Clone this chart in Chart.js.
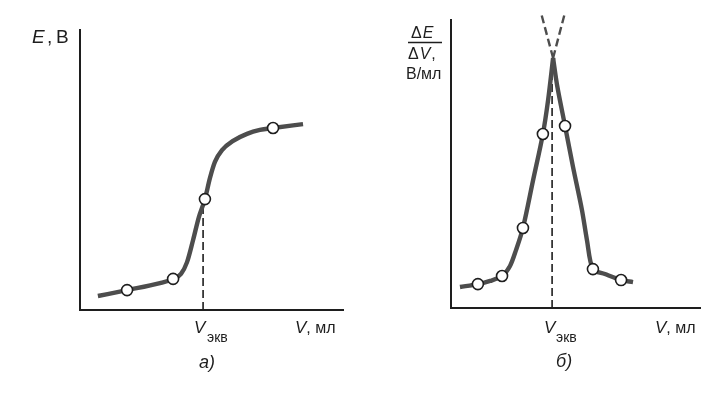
<!DOCTYPE html>
<html><head><meta charset="utf-8">
<script src="https://cdn.jsdelivr.net/npm/chart.js@4.4.0/dist/chart.umd.min.js"></script>
<style>
html,body{margin:0;background:#fff}
#wrap{position:relative;width:723px;height:397px;overflow:hidden;background:#fff}
canvas{position:absolute;top:0}
#ca{left:0}
#cb{left:361px}
</style></head><body>
<div id="wrap"><canvas id="ca" width="361" height="397"></canvas><canvas id="cb" width="362" height="397"></canvas></div>
<script>
// panel а) : E against V
const curveA_V=[0.68,1.79,3.04,3.54,3.84,4.07,4.30,4.52,4.75,4.94,5.13,5.40,5.82,6.35,6.84,7.34,8.48];
const curveA_E=[0.50,0.71,0.96,1.11,1.29,1.71,2.50,3.32,3.96,4.71,5.29,5.71,6.04,6.29,6.43,6.50,6.64];
const pointsA_V=[1.79,3.54,4.75,7.34];
const pointsA_E=[0.71,1.11,3.96,6.50];
const vEqA=4.68;
// panel б) : dE/dV against V
const riseB_V=[0.36,1.08,1.57,2.05,2.37,2.61,2.89,3.29,3.69,3.90,4.10];
const riseB_D=[0.73,0.83,0.94,1.11,1.46,2.01,2.78,4.41,6.04,7.22,8.68];
const fallB_V=[4.10,4.26,4.58,4.90,5.26,5.46,5.70,6.18,6.83,7.31];
const fallB_D=[8.68,7.74,6.32,4.90,3.40,2.36,1.35,1.18,0.97,0.90];
const pointsB_V=[1.08,2.05,2.89,3.69,4.58,5.70,6.83];
const pointsB_D=[0.83,1.11,2.78,6.04,6.32,1.35,0.97];
const extRiseB_V=[4.10,4.56];
const extFallB_V=[4.10,3.63];
const extB_D=[8.68,10.2];
const vEqB=4.06;

const INK='#1e1e1e', CURVE='#4d4d4d', FONT='"Liberation Sans", Arial, sans-serif';
const xy=(xs,ys)=>xs.map((x,i)=>({x,y:ys[i]}));
function txt(ctx,s,x,y,font){ ctx.font=font; ctx.fillText(s,x,y); return x+ctx.measureText(s).width; }

function axes(){
  const ax={type:'linear',min:0,max:10,grid:{display:false,drawTicks:false},ticks:{display:false},border:{display:true,color:INK,width:2}};
  return {x:{...ax},y:{...ax}};
}
const markers=(xs,ys)=>({data:xy(xs,ys),showLine:false,order:0,pointRadius:5.5,pointBorderWidth:1.6,pointBackgroundColor:'#fff',pointBorderColor:INK});
const curve=(xs,ys,smooth)=>({data:xy(xs,ys),showLine:true,order:2,pointRadius:0,borderColor:CURVE,borderWidth:4.4,
  ...(smooth?{tension:smooth}:{cubicInterpolationMode:'monotone'})});
const dashed=(xs,ys,w)=>({data:xy(xs,ys),showLine:true,order:3,pointRadius:0,borderColor:w>2?CURVE:INK,borderWidth:w||1.6,borderDash:[8,4],clip:false});

const baseOpts=(padding)=>({responsive:false,animation:false,events:[],layout:{padding},
  plugins:{legend:{display:false},tooltip:{enabled:false}},scales:axes()});

new Chart(document.getElementById('ca'),{type:'scatter',
  data:{datasets:[markers(pointsA_V,pointsA_E),curve(curveA_V,curveA_E),dashed([vEqA,vEqA],[0,pointsA_E[2]])]},
  options:baseOpts({left:80,top:30,right:18,bottom:87}),
  plugins:[{id:'labelsA',afterDraw(chart){
    const ctx=chart.ctx, ca=chart.chartArea, vx=chart.scales.x.getPixelForValue(vEqA);
    ctx.save(); ctx.fillStyle=INK; ctx.textBaseline='alphabetic';
    txt(ctx,'E',32,43,'italic 19px '+FONT); txt(ctx,',',47,43,'19px '+FONT); txt(ctx,'В',56,43,'19px '+FONT);
    txt(ctx,'V',vx-9,ca.bottom+23,'italic 17px '+FONT); txt(ctx,'экв',vx+4,ca.bottom+32,'14px '+FONT);
    let x=txt(ctx,'V',ca.right-48,ca.bottom+23,'italic 17px '+FONT); txt(ctx,', мл',x,ca.bottom+23,'16px '+FONT);
    txt(ctx,'а)',vx-4,ca.bottom+58,'italic 18px '+FONT);
    ctx.restore();
  }}]
});

new Chart(document.getElementById('cb'),{type:'scatter',
  data:{datasets:[markers(pointsB_V,pointsB_D),curve(riseB_V,riseB_D,0.3),curve(fallB_V,fallB_D,0.3),
    dashed(extRiseB_V,extB_D,2.4),dashed(extFallB_V,extB_D,2.4),dashed([vEqB,vEqB],[0,8.2])]},
  options:baseOpts({left:90,top:20,right:23,bottom:89}),
  plugins:[{id:'labelsB',afterDraw(chart){
    const ctx=chart.ctx, ca=chart.chartArea, vx=chart.scales.x.getPixelForValue(vEqB);
    ctx.save(); ctx.fillStyle=INK; ctx.strokeStyle=INK; ctx.textBaseline='alphabetic';
    let x=txt(ctx,'Δ',50,38,'16px '+FONT); txt(ctx,'E',x+1,38,'italic 16px '+FONT);
    ctx.lineWidth=1.6; ctx.beginPath(); ctx.moveTo(47,42.5); ctx.lineTo(81,42.5); ctx.stroke();
    x=txt(ctx,'Δ',47,59,'16px '+FONT); x=txt(ctx,'V',x+1,59,'italic 16px '+FONT); txt(ctx,',',x+1,59,'16px '+FONT);
    txt(ctx,'В/мл',45,79,'16px '+FONT);
    txt(ctx,'V',vx-8,ca.bottom+25,'italic 17px '+FONT); txt(ctx,'экв',vx+4,ca.bottom+34,'14px '+FONT);
    x=txt(ctx,'V',ca.right-45,ca.bottom+25,'italic 17px '+FONT); txt(ctx,', мл',x,ca.bottom+25,'16px '+FONT);
    txt(ctx,'б)',vx+4,ca.bottom+59,'italic 18px '+FONT);
    ctx.restore();
  }}]
});
</script>
</body></html>
